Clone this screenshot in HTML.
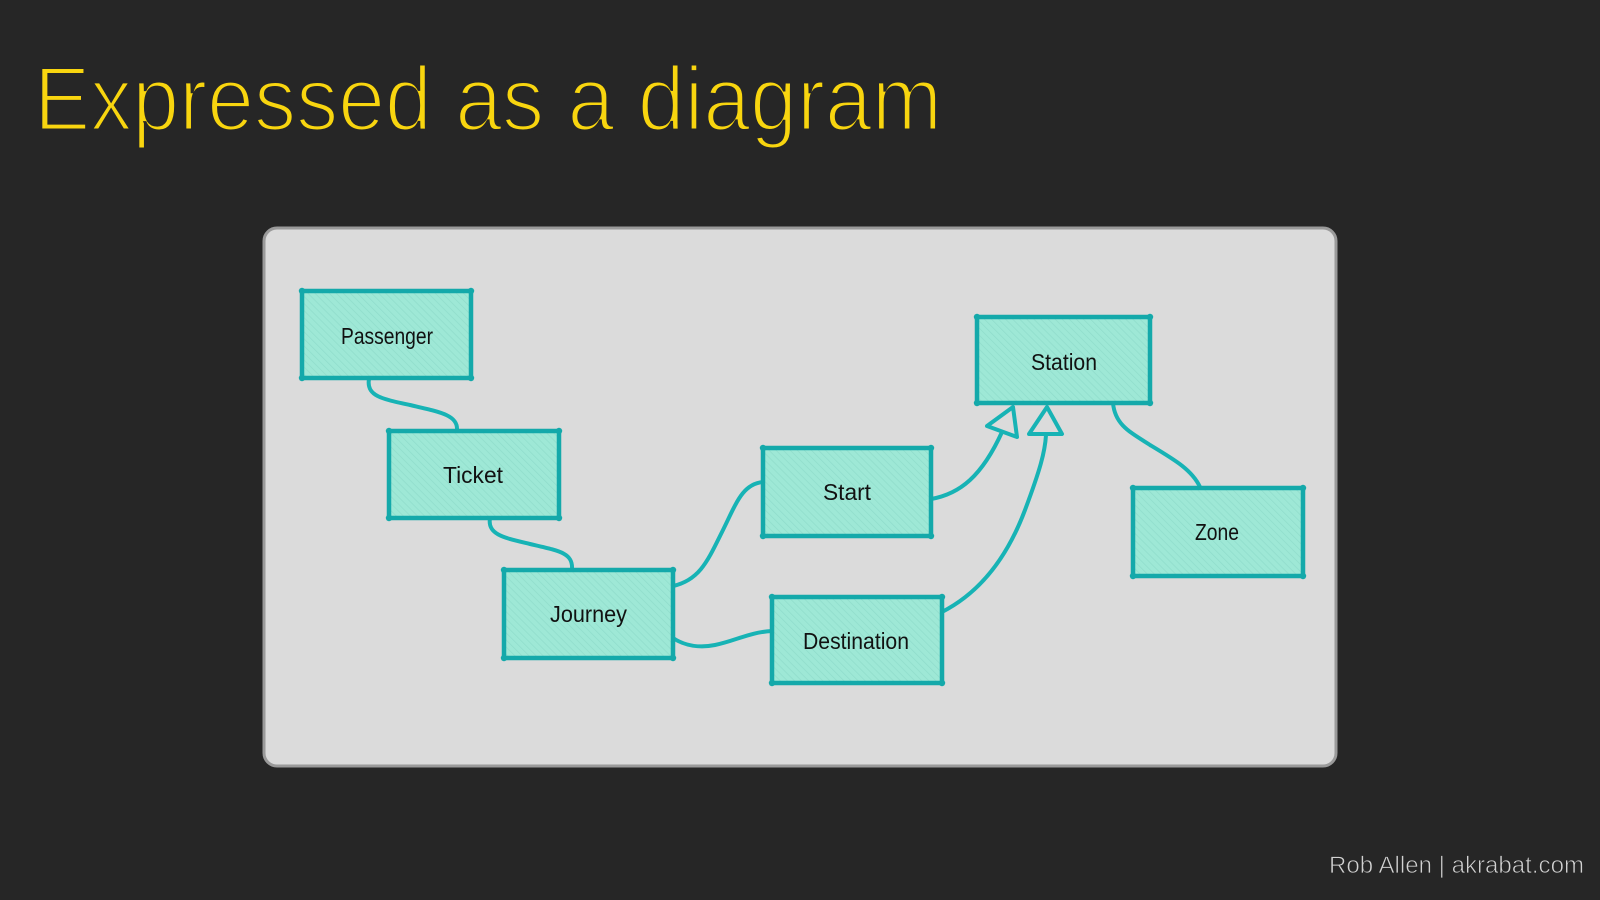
<!DOCTYPE html>
<html>
<head>
<meta charset="utf-8">
<style>
  html, body { margin:0; padding:0; background:#262626; }
  body { width:1600px; height:900px; overflow:hidden; }
  svg { display:block; }
</style>
</head>
<body>
<svg width="1600" height="900" viewBox="0 0 1600 900" xmlns="http://www.w3.org/2000/svg">
  <defs>
    <pattern id="hatch" patternUnits="userSpaceOnUse" width="5" height="5" patternTransform="rotate(-45)">
      <rect width="5" height="5" fill="#9ee8d6"/>
      <line x1="0" y1="0" x2="0" y2="5" stroke="#8fdccb" stroke-width="1.4"/>
    </pattern>
  </defs>

  <rect x="0" y="0" width="1600" height="900" fill="#262626"/>

  <!-- Title -->
  <text x="34" y="130" font-family="Liberation Sans, sans-serif" font-size="91" fill="#f8d50f" stroke="#262626" stroke-width="3" textLength="908" lengthAdjust="spacingAndGlyphs">Expressed as a diagram</text>

  <!-- Footer -->
  <text x="1329" y="873" font-family="Liberation Sans, sans-serif" font-size="24" fill="#d2d2d2" stroke="#262626" stroke-width="0.7" textLength="255" lengthAdjust="spacingAndGlyphs">Rob Allen | akrabat.com</text>

  <!-- Panel -->
  <rect x="264" y="228" width="1072" height="538" rx="13" ry="13" fill="#dbdbdb" stroke="#9a9a9a" stroke-width="3"/>

  <!-- Connectors -->
  <g fill="none" stroke="#17b3b5" stroke-width="4" stroke-linecap="round">
    <path d="M369,379 C366,396 382,399 410,405 C440,412 458,415 457,430"/>
    <path d="M490,518 C487,535 505,538 530,544 C560,551 573,553 572,569"/>
    <path d="M673,586 C700,580 708,560 722,532 C736,504 742,484 763,482"/>
    <path d="M673,638 C685,646 700,648 715,645 C735,641 750,632 772,631"/>
    <path d="M931,499 C960,494 982,476 1002,432"/>
    <path d="M942,612 C985,590 1010,550 1025,510 C1040,470 1045,452 1046,435"/>
    <path d="M1113,403 C1115,425 1130,432 1150,445 C1175,460 1192,470 1200,487"/>
  </g>
  <!-- Arrowheads (hollow triangles) -->
  <g fill="#dbdbdb" stroke="#17b3b5" stroke-width="4" stroke-linejoin="round">
    <polygon points="987,426 1013,407 1017,437"/>
    <polygon points="1029,434 1047,407 1062,434"/>
  </g>

  <!-- Boxes -->
  <g stroke="#14a9aa" stroke-width="4.5" fill="url(#hatch)">
    <rect x="302" y="291" width="169" height="87"/>
    <rect x="389" y="431" width="170" height="87"/>
    <rect x="504" y="570" width="169" height="88"/>
    <rect x="763" y="448" width="168" height="88"/>
    <rect x="772" y="597" width="170" height="86"/>
    <rect x="977" y="317" width="173" height="86"/>
    <rect x="1133" y="488" width="170" height="88"/>
  </g>
  <!-- Corner dots -->
  <g fill="#14a9aa">
    <circle cx="302" cy="291" r="3.2"/><circle cx="471" cy="291" r="3.2"/><circle cx="302" cy="378" r="3.2"/><circle cx="471" cy="378" r="3.2"/>
    <circle cx="389" cy="431" r="3.2"/><circle cx="559" cy="431" r="3.2"/><circle cx="389" cy="518" r="3.2"/><circle cx="559" cy="518" r="3.2"/>
    <circle cx="504" cy="570" r="3.2"/><circle cx="673" cy="570" r="3.2"/><circle cx="504" cy="658" r="3.2"/><circle cx="673" cy="658" r="3.2"/>
    <circle cx="763" cy="448" r="3.2"/><circle cx="931" cy="448" r="3.2"/><circle cx="763" cy="536" r="3.2"/><circle cx="931" cy="536" r="3.2"/>
    <circle cx="772" cy="597" r="3.2"/><circle cx="942" cy="597" r="3.2"/><circle cx="772" cy="683" r="3.2"/><circle cx="942" cy="683" r="3.2"/>
    <circle cx="977" cy="317" r="3.2"/><circle cx="1150" cy="317" r="3.2"/><circle cx="977" cy="403" r="3.2"/><circle cx="1150" cy="403" r="3.2"/>
    <circle cx="1133" cy="488" r="3.2"/><circle cx="1303" cy="488" r="3.2"/><circle cx="1133" cy="576" r="3.2"/><circle cx="1303" cy="576" r="3.2"/>
  </g>

  <!-- Labels -->
  <g font-family="Liberation Sans, sans-serif" font-size="23" fill="#111">
    <text x="341" y="344" textLength="92" lengthAdjust="spacingAndGlyphs">Passenger</text>
    <text x="443" y="483" textLength="60" lengthAdjust="spacingAndGlyphs">Ticket</text>
    <text x="550" y="622" textLength="77" lengthAdjust="spacingAndGlyphs">Journey</text>
    <text x="823" y="500" textLength="48" lengthAdjust="spacingAndGlyphs">Start</text>
    <text x="803" y="649" textLength="106" lengthAdjust="spacingAndGlyphs">Destination</text>
    <text x="1031" y="370" textLength="66" lengthAdjust="spacingAndGlyphs">Station</text>
    <text x="1195" y="540" textLength="44" lengthAdjust="spacingAndGlyphs">Zone</text>
  </g>
</svg>
</body>
</html>
